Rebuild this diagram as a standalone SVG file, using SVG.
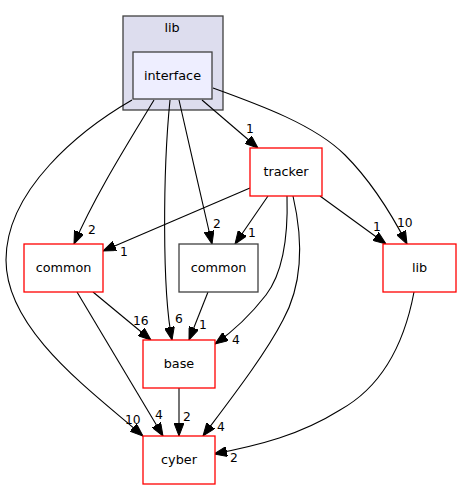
<svg xmlns="http://www.w3.org/2000/svg" width="461" height="489" viewBox="0 0 461 489">
<defs>
<style>
text{font-family:"DejaVu Sans","Liberation Sans",sans-serif;fill:#000}
.nt{font-size:12.8px;text-anchor:middle}
.el{font-size:12.3px}
.red{fill:#ffffff;stroke:#ff0000;stroke-width:1.3}
.blk{fill:#ffffff;stroke:#404040;stroke-width:1.3}
.e{fill:none;stroke:#000;stroke-width:1.1;marker-end:url(#ah)}
</style>
<marker id="ah" viewBox="0 0 13 10" refX="13" refY="5" markerWidth="13" markerHeight="10" markerUnits="userSpaceOnUse" orient="auto">
<path d="M0,0 L13,5 L0,10 z" fill="#000" stroke="#000" stroke-width="1"/>
</marker>
</defs>
<rect width="461" height="489" fill="#ffffff"/>
<g id="cluster_lib">
<rect x="123" y="16" width="100" height="94" fill="#ddddee" stroke="#404040" stroke-width="1.3"/>
<text class="nt" x="172" y="32">lib</text>
</g>
<g id="edges">
<path class="e" d="M132,100 C80,130 6,190 6,260 C6,330 90,390 143,436"/>
<text class="el" x="125" y="424">10</text>
<path class="e" d="M154,100 C130,140 95,195 74,244"/>
<text class="el" x="88" y="234">2</text>
<path class="e" d="M170,100 C163,170 162,290 172,340"/>
<text class="el" x="175" y="323">6</text>
<path class="e" d="M179,100 C188,140 203,205 212,244"/>
<text class="el" x="213" y="228">2</text>
<path class="e" d="M202,100 L258,148"/>
<text class="el" x="246" y="133">1</text>
<path class="e" d="M213,88 C260,105 315,125 345,155 C370,180 392,215 407,244"/>
<text class="el" x="397" y="227">10</text>
<path class="e" d="M250,188 L103,251"/>
<text class="el" x="120" y="256">1</text>
<path class="e" d="M268,196 L235,244"/>
<text class="el" x="248" y="237">1</text>
<path class="e" d="M287,196 C288,230 285,270 266,295 C252,313 235,330 215,344"/>
<text class="el" x="232" y="344">4</text>
<path class="e" d="M293,196 C302,235 305,280 283,320 C265,355 230,400 203,436"/>
<text class="el" x="217" y="431">4</text>
<path class="e" d="M320,196 L386,244"/>
<text class="el" x="373" y="231">1</text>
<path class="e" d="M93,292 L151,340"/>
<text class="el" x="133" y="325">16</text>
<path class="e" d="M77,292 L163,436"/>
<text class="el" x="155" y="419">4</text>
<path class="e" d="M208,292 L189,340"/>
<text class="el" x="199" y="329">1</text>
<path class="e" d="M179,388 L179,436"/>
<text class="el" x="183" y="421">2</text>
<path class="e" d="M414,292 C405,340 385,385 340,410 C300,435 260,445 214,454"/>
<text class="el" x="230" y="462">2</text>
</g>
<g id="node_interface">
<rect x="133" y="52" width="79" height="47" fill="#eeeeff" stroke="#404040" stroke-width="1.3"/>
<text class="nt" x="172.5" y="80">interface</text>
</g>
<g id="node_tracker">
<rect class="red" x="250" y="148" width="72" height="48"/>
<text class="nt" x="286" y="176">tracker</text>
</g>
<g id="node_common_red">
<rect class="red" x="24" y="244" width="79" height="48"/>
<text class="nt" x="63.5" y="272">common</text>
</g>
<g id="node_common_black">
<rect class="blk" x="179" y="244" width="79" height="48"/>
<text class="nt" x="218.5" y="272">common</text>
</g>
<g id="node_lib">
<rect class="red" x="383" y="244" width="73" height="48"/>
<text class="nt" x="419.5" y="272">lib</text>
</g>
<g id="node_base">
<rect class="red" x="143" y="340" width="72" height="48"/>
<text class="nt" x="179" y="368">base</text>
</g>
<g id="node_cyber">
<rect class="red" x="143" y="436" width="72" height="48"/>
<text class="nt" x="179" y="464">cyber</text>
</g>
</svg>
